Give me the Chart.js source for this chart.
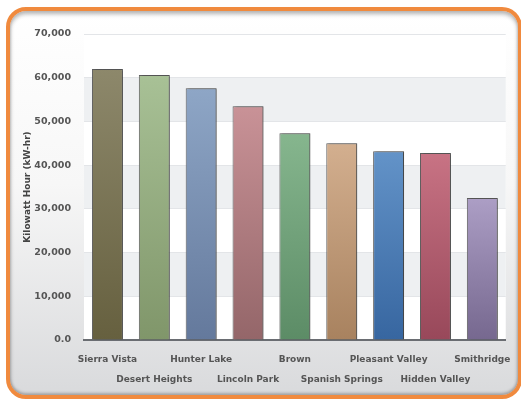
<!DOCTYPE html>
<html>
<head>
<meta charset="utf-8">
<script src="https://cdn.jsdelivr.net/npm/chart.js@4/dist/chart.umd.min.js"></script>
<style>
  html, body { margin: 0; padding: 0; background: #fff; }
  body { width: 521px; height: 400px; position: relative; overflow: hidden; }
  #card {
    position: absolute; left: 6px; top: 7px; width: 508px; height: 384px;
    border: 4px solid #f08a3e; border-radius: 20px;
    background: linear-gradient(#ffffff 0%, #f7f7f7 45%, #d9dadc 100%);
    box-shadow: inset 0 3px 4px rgba(0,0,0,0.3), inset 0 -2px 3px rgba(0,0,0,0.25);
  }
  #chart { position: absolute; left: 0; top: 0; }
</style>
</head>
<body>
<div id="card"></div>
<canvas id="chart" width="521" height="400"></canvas>
<script>
// ---- Data ----
const sites = ["Sierra Vista", "Desert Heights", "Hunter Lake", "Lincoln Park", "Brown",
  "Spanish Springs", "Pleasant Valley", "Hidden Valley", "Smithridge"];
const kwh = [62000, 60600, 57600, 53500, 47300, 45000, 43200, 42800, 32500];
const yTicks = [0, 10000, 20000, 30000, 40000, 50000, 60000, 70000];

// top / bottom shade of each bar
const barTop = ["#8d886b", "#a8c196", "#8ea6c6", "#c99297", "#86b68e", "#d3af8f", "#6393c8", "#c87384", "#ac9ec5"];
const barBottom = ["#66603f", "#80966a", "#64799c", "#946669", "#5c8c66", "#a8825f", "#3766a0", "#98485a", "#76688f"];

// ---- Plugins ----
const plotBg = {
  id: "plotBg",
  beforeDraw(chart) {
    const { ctx, chartArea: a, scales: { y } } = chart;
    ctx.save();
    ctx.fillStyle = "#ffffff";
    ctx.fillRect(a.left, a.top, a.right - a.left, a.bottom - a.top);
    // grey bands 10-20k, 30-40k, 50-60k
    ctx.fillStyle = "#eef0f2";
    for (let i = 1; i < yTicks.length - 1; i += 2) {
      const y1 = y.getPixelForValue(yTicks[i + 1]);
      const y0 = y.getPixelForValue(yTicks[i]);
      ctx.fillRect(a.left, y1, a.right - a.left, y0 - y1);
    }
    ctx.restore();
  }
};

const barShadow = {
  id: "barShadow",
  beforeDatasetsDraw(chart) {
    const ctx = chart.ctx;
    ctx.save();
    ctx.shadowColor = "rgba(0,0,0,0.35)";
    ctx.shadowOffsetX = 2;
    ctx.shadowOffsetY = 0;
    ctx.shadowBlur = 2;
  },
  afterDatasetsDraw(chart) {
    chart.ctx.restore();
  }
};

function barGradient(c) {
  const chart = c.chart;
  if (!chart.chartArea || c.dataIndex === undefined) return barTop[0];
  const y = chart.scales.y;
  const top = y.getPixelForValue(kwh[c.dataIndex]);
  const bottom = y.getPixelForValue(0);
  const g = chart.ctx.createLinearGradient(0, top, 0, bottom);
  g.addColorStop(0, barTop[c.dataIndex]);
  g.addColorStop(1, barBottom[c.dataIndex]);
  return g;
}

// ---- Chart ----
const ctx = document.getElementById("chart").getContext("2d");

new Chart(ctx, {
  type: "bar",
  data: {
    labels: sites,
    datasets: [{
      label: "Kilowatt Hour (kW-hr)",
      data: kwh,
      backgroundColor: barGradient,
      borderColor: "#5e5e5e",
      borderWidth: { top: 1, left: 1, right: 1, bottom: 0 },
      borderSkipped: false,
      barPercentage: 0.66,
      categoryPercentage: 1
    }]
  },
  plugins: [plotBg, barShadow],
  options: {
    responsive: false,
    animation: false,
    devicePixelRatio: 1,
    layout: { padding: { left: 22, top: 34, right: 11, bottom: 0 } },
    plugins: {
      legend: { display: false },
      tooltip: { enabled: false }
    },
    scales: {
      x: {
        grid: { display: false, drawTicks: false },
        border: { display: true, color: "#6a6d72", width: 2 },
        ticks: {
          autoSkip: false,
          maxRotation: 0,
          padding: 10,
          color: "#555",
          font: { family: "DejaVu Sans", size: 9, weight: "bold", lineHeight: 2.2 },
          callback: (v, i) => (i % 2 === 0 ? [sites[i], ""] : ["", sites[i]])
        },
        afterFit: (s) => { s.height = 60; }
      },
      y: {
        min: 0,
        max: 70000,
        afterBuildTicks: (s) => { s.ticks = yTicks.map((v) => ({ value: v })); },
        grid: { color: "#e3e5e8", drawTicks: false },
        border: { display: false },
        ticks: {
          autoSkip: false,
          padding: 13,
          color: "#555",
          font: { family: "DejaVu Sans", size: 9.5, weight: "bold" },
          callback: (v) => (v === 0 ? "0.0" : v.toLocaleString("en-US"))
        },
        title: {
          display: true,
          text: "Kilowatt Hour (kW-hr)",
          color: "#444",
          padding: 0,
          font: { family: "DejaVu Sans", size: 9, weight: "bold" }
        },
        afterFit: (s) => { s.width = 62; }
      }
    }
  }
});
</script>
</body>
</html>
